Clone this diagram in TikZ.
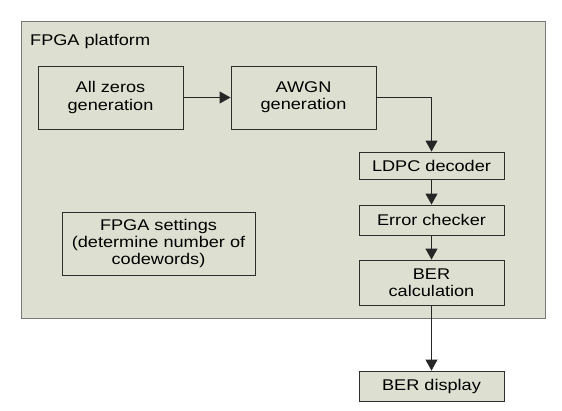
\documentclass[tikz,border=0pt]{standalone}
\usepackage{fontspec}
\setmainfont[FakeStretch=1.17]{Liberation Sans}
\usepackage{tikz}
\usetikzlibrary{arrows.meta}
\definecolor{platfill}{RGB}{221,224,208}
\definecolor{platline}{RGB}{120,120,120}
\definecolor{boxline}{RGB}{45,45,45}
\tikzstyle{block} = [draw=boxline, fill=platfill, line width=0.9pt, inner sep=0pt, align=center, minimum width=145pt]
\tikzstyle{line} = [draw=black!85, line width=0.9pt, -{Triangle[length=11pt,width=12pt]}]

\begin{document}
\begin{tikzpicture}[x=1pt,y=1pt,font=\fontsize{15.5}{17.3}\selectfont]
		\useasboundingbox (0,0) rectangle (562,-410);
		% platform
		\node[draw=platline, fill=platfill, line width=1pt, minimum width=524pt, minimum height=297pt] (platform) at (283,-169.5) {};
		\node[anchor=west, inner sep=0pt] (platlabel) at (30,-41) {FPGA platform};
		% blocks
		\node[block, minimum height=63pt] (zeros) at (110.5,-97.5) {All zeros\\generation};
		\node[block, minimum height=63pt] (awgn) at (303.5,-97.5) {AWGN\\generation};
		\node[block, minimum height=27pt] (ldpc) at (431.5,-165.5) {LDPC decoder};
		\node[block, minimum height=30pt] (check) at (431.5,-220) {Error checker};
		\node[block, minimum height=45pt] (bercalc) at (431.5,-282.5) {BER\\calculation};
		\node[block, minimum height=30pt] (berdisp) at (431.5,-386) {BER display};
		\node[block, minimum width=193pt, minimum height=63pt] (settings) at (158.5,-243.5) {FPGA settings\\(determine number of\\codewords)};
		% connectors
		\path[line] (zeros) -- (awgn);
		\path[line] (awgn.east) -| (ldpc.north);
		\path[line] (ldpc) -- (check);
		\path[line] (check) -- (bercalc);
		\path[line] (bercalc) -- (berdisp);
	\end{tikzpicture}
\end{document}
